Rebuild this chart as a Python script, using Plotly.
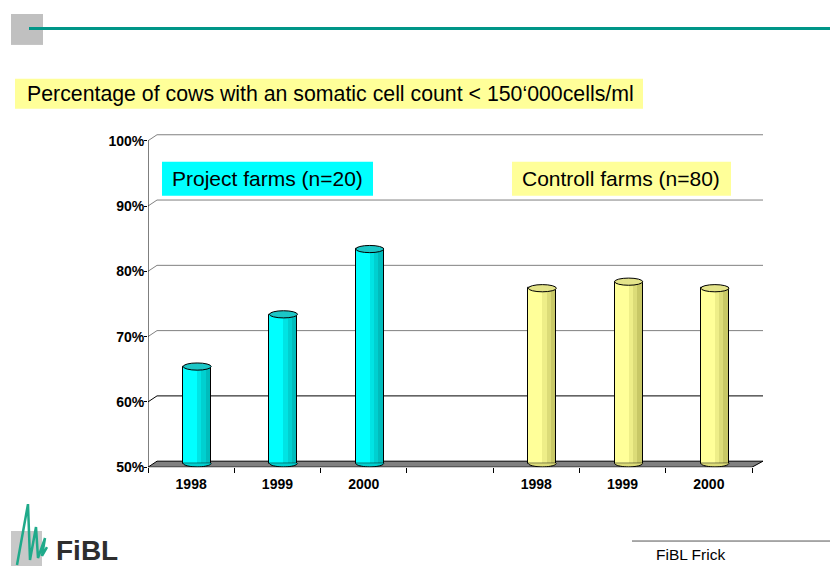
import math
import plotly.graph_objects as go

# ---------------- data ----------------
years = ["1998", "1999", "2000"]
project_values = [65, 73, 83]
control_values = [77, 78, 77]
project_slots = [0, 1, 2]
control_slots = [4, 5, 6]
n_slots = 7
y_ticks = [50, 60, 70, 80, 90, 100]
y_tick_labels = ["50%", "60%", "70%", "80%", "90%", "100%"]
title_text = "Percentage of cows with an somatic cell count < 150\u2018000cells/ml"
project_label = "Project farms (n=20)"
control_label = "Controll farms (n=80)"
footer_text = "FiBL Frick"
logo_text = "FiBL"

# ---------------- geometry ----------------
W, H = 830, 566              # reference picture size
FIG_H = 574                  # figure height (page is captured slightly squeezed)
PX0, PX1 = 148, 763          # plot area in pixels (x)
PY_TOP, PY_BOT = 133, 467    # plot area in pixels (y)
slot_px = (752 - 148) / n_slots
unit_px = (467 - 140) / 50.0
x_max = (PX1 - PX0) / slot_px
y_max = 50 + (PY_BOT - PY_TOP) / unit_px
dx = 9 / slot_px             # depth offset (x) in data units
dy = 6 / unit_px             # depth offset (y) in data units
bar_w = 28 / slot_px
bar_shift = 0.07
ell_h = 3.6 / unit_px
base_v = 50 + 0.65 * dy
depth_lift = 0.45 * dy       # cylinders stand at mid-depth

FONT = "Liberation Sans, Arial, sans-serif"


def px(x):
    return x / W


def py(y):
    return 1 - y / H


fig = go.Figure()
shapes = []

# back-wall gridlines + left-wall diagonals
for v in y_ticks[1:]:
    col = "#000000" if v == 60 else "#808080"
    shapes.append(dict(type="line", xref="x", yref="y", x0=dx, x1=x_max,
                       y0=v + dy, y1=v + dy, line=dict(color=col, width=1), layer="below"))
    shapes.append(dict(type="line", xref="x", yref="y", x0=0, x1=dx,
                       y0=v, y1=v + dy, line=dict(color=col, width=1), layer="below"))

# floor
shapes.append(dict(type="path", xref="x", yref="y",
                   path=f"M 0,50 L {n_slots},50 L {x_max},{50 + dy} L {dx},{50 + dy} Z",
                   fillcolor="#808080", line=dict(color="#000000", width=1), layer="below"))
# front y axis line
shapes.append(dict(type="line", xref="x", yref="y", x0=0, x1=0, y0=50, y1=100,
                   line=dict(color="#000000", width=1)))


def add_cylinders(slots, values, body, shades, top):
    xs = [s + 0.5 + bar_shift for s in slots]
    hs = [v + depth_lift - base_v for v in values]
    fig.add_trace(go.Bar(x=xs, y=hs, base=base_v, width=bar_w, offset=-bar_w / 2,
                         marker=dict(color=body, line=dict(width=0)), showlegend=False,
                         hoverinfo="skip"))
    fr = [0.5, 0.65, 0.8, 1.0]
    for i, c in enumerate(shades):
        fig.add_trace(go.Bar(x=xs, y=hs, base=base_v, width=bar_w * (fr[i + 1] - fr[i]),
                             offset=-bar_w / 2 + bar_w * fr[i],
                             marker=dict(color=c, line=dict(width=0)), showlegend=False,
                             hoverinfo="skip"))
    fig.add_trace(go.Bar(x=xs, y=hs, base=base_v, width=bar_w, offset=-bar_w / 2,
                         marker=dict(color="rgba(0,0,0,0)", line=dict(color="#000000", width=1)),
                         showlegend=False, hoverinfo="skip"))
    for x, v in zip(xs, values):
        t = v + depth_lift
        shapes.append(dict(type="circle", xref="x", yref="y",
                           x0=x - bar_w / 2, x1=x + bar_w / 2, y0=t - ell_h, y1=t + ell_h,
                           fillcolor=top, line=dict(color="#000000", width=1), layer="above"))
        pts = []
        for k in range(0, 21):
            a = math.pi * k / 20
            pts.append((x - bar_w / 2 * math.cos(a), base_v - ell_h * math.sin(a)))
        path = "M " + " L ".join(f"{a:.4f},{b:.4f}" for a, b in pts)
        shapes.append(dict(type="path", xref="x", yref="y", path=path,
                           fillcolor=shades[1], line=dict(color="#000000", width=1), layer="above"))


add_cylinders(project_slots, project_values, "#00FFFF", ["#00E4E4", "#00D0D0", "#00BCBC"], "#1CC6C6")
add_cylinders(control_slots, control_values, "#FFFF99", ["#EEEE88", "#DCDC78", "#C8C866"], "#E4E48A")

# ---- decoration in page pixels ----
shapes.append(dict(type="rect", xref="paper", yref="paper", x0=px(11), x1=px(43), y0=py(44), y1=py(13),
                   fillcolor="#C0C0C0", line=dict(width=0)))
shapes.append(dict(type="line", xref="paper", yref="paper", x0=px(29), x1=px(830), y0=py(27.5), y1=py(27.5),
                   line=dict(color="#009688", width=3)))
shapes.append(dict(type="rect", xref="paper", yref="paper", x0=px(15), x1=px(643), y0=py(108), y1=py(78),
                   fillcolor="#FFFF99", line=dict(width=0)))
shapes.append(dict(type="rect", xref="paper", yref="paper", x0=px(162), x1=px(373), y0=py(195), y1=py(161),
                   fillcolor="#00FFFF", line=dict(width=0)))
shapes.append(dict(type="rect", xref="paper", yref="paper", x0=px(512), x1=px(731), y0=py(195), y1=py(161),
                   fillcolor="#FFFF99", line=dict(width=0)))
shapes.append(dict(type="line", xref="paper", yref="paper", x0=px(632), x1=px(830), y0=py(541), y1=py(541),
                   line=dict(color="#555555", width=1)))
shapes.append(dict(type="rect", xref="paper", yref="paper", x0=px(11), x1=px(42), y0=py(566), y1=py(531),
                   fillcolor="#C8C8C8", line=dict(width=0)))
logo_pts = [(17, 565), (28, 504), (30, 560), (36, 527), (38, 558), (45, 538), (42, 556), (47, 547)]
logo_path = "M " + " L ".join(f"{px(a):.5f},{py(b):.5f}" for a, b in logo_pts)
shapes.append(dict(type="path", xref="paper", yref="paper", path=logo_path,
                   line=dict(color="#1FAA8A", width=2.5)))

annotations = [
    dict(x=px(25), y=py(93), xref="paper", yref="paper", text=title_text, showarrow=False,
         xanchor="left", yanchor="middle", font=dict(family=FONT, size=21.3, color="#000000")),
    dict(x=px(170), y=py(178), xref="paper", yref="paper", text=project_label, showarrow=False,
         xanchor="left", yanchor="middle", font=dict(family=FONT, size=21, color="#000000")),
    dict(x=px(520), y=py(178), xref="paper", yref="paper", text=control_label, showarrow=False,
         xanchor="left", yanchor="middle", font=dict(family=FONT, size=21, color="#000000")),
    dict(x=px(654), y=py(554), xref="paper", yref="paper", text=footer_text, showarrow=False,
         xanchor="left", yanchor="middle", font=dict(family=FONT, size=15.5, color="#000000")),
    dict(x=px(54), y=py(550), xref="paper", yref="paper", text=f"<b>{logo_text}</b>", showarrow=False,
         xanchor="left", yanchor="middle", font=dict(family=FONT, size=28, color="#2E2E2E")),
]

tick_x = [s + 0.5 for s in project_slots + control_slots]
tick_txt = years + years

fig.update_layout(
    width=W, height=FIG_H, autosize=False, margin=dict(l=0, r=0, t=0, b=0, pad=0),
    paper_bgcolor="white", plot_bgcolor="white",
    barmode="overlay", bargap=0,
    shapes=shapes, annotations=annotations,
    xaxis=dict(domain=[px(PX0), px(PX1)], range=[0, x_max], showgrid=False, zeroline=False,
               showline=False, tickvals=tick_x, ticktext=tick_txt, ticks="",
               ticklabelstandoff=7,
               tickfont=dict(family=FONT, size=14, color="#000000", weight="bold"),
               minor=dict(tickvals=list(range(n_slots + 1)), ticks="outside", ticklen=5,
                          tickcolor="#000000", tickwidth=1, showgrid=False),
               fixedrange=True),
    yaxis=dict(domain=[py(PY_BOT), py(PY_TOP)], range=[50, y_max], showgrid=False, zeroline=False,
               showline=False, tickvals=y_ticks, ticktext=y_tick_labels, ticks="outside",
               ticklen=3, tickcolor="#000000", ticklabelstandoff=-3,
               tickfont=dict(family=FONT, size=14, color="#000000", weight="bold"),
               fixedrange=True),
    font=dict(family=FONT),
)

fig.write_html("out.html", config={"displayModeBar": False},
               post_script="document.body.style.margin='0';")
